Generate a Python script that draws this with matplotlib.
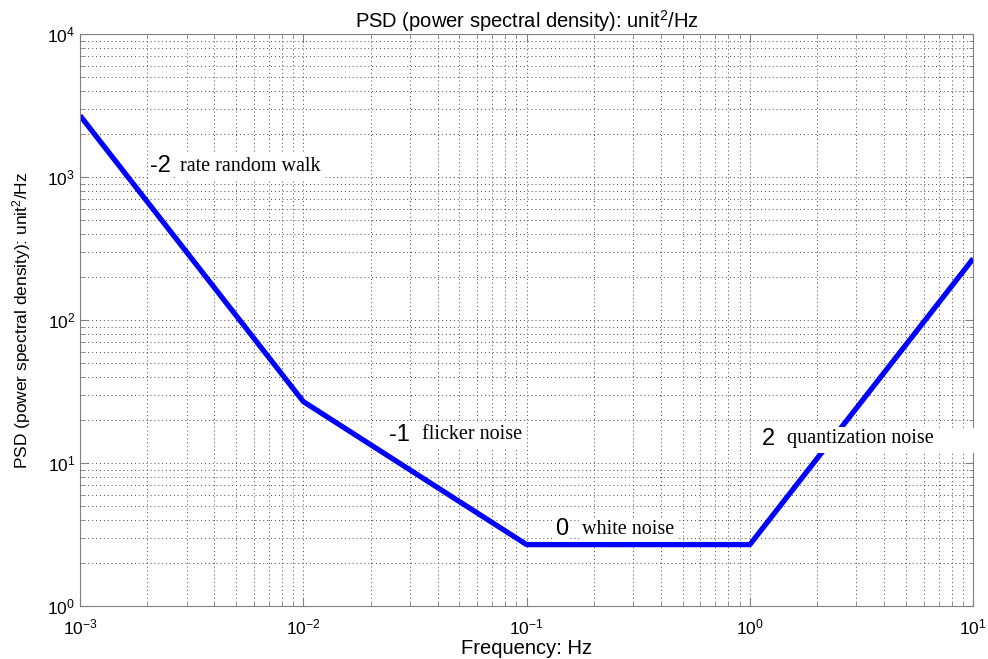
import matplotlib
matplotlib.use("Agg")
import matplotlib.pyplot as plt
from matplotlib.patches import Rectangle

# Piecewise PSD model: corner frequencies and PSD levels
freq = [1e-3, 1e-2, 1e-1, 1e0, 1e1]
psd = [2700, 27, 2.7, 2.7, 270]

# Slope labels with the noise type they correspond to
slope_labels = ["-2", "-1", "0", "2"]
noise_names = ["rate random walk", "flicker noise", "white noise", "quantization noise"]
label_x = [0.00206, 0.0242, 0.134, 1.135]
label_y = [1190, 15.8, 3.46, 14.8]
name_x = [0.00281, 0.0340, 0.1775, 1.468]

plt.rcParams["font.family"] = ["Liberation Sans", "DejaVu Sans"]
plt.rcParams["mathtext.fontset"] = "custom"
plt.rcParams["mathtext.rm"] = "Liberation Sans"
plt.rcParams["mathtext.it"] = "Liberation Sans:italic"

fig = plt.figure(figsize=(9.88, 6.59), dpi=100)
ax = fig.add_axes([0.081, 0.080, 0.904, 0.868])

ax.plot(freq, psd, color="#0000ff", lw=3.8, solid_capstyle="butt", zorder=2)
ax.set_xscale("log")
ax.set_yscale("log")
ax.set_xlim(1e-3, 1e1)
ax.set_ylim(1e0, 1e4)

ax.grid(True, which="both", linestyle=(0, (1, 3)), color="#444444", lw=0.7)
ax.set_axisbelow(True)
ax.tick_params(which="both", direction="in", top=True, right=True, colors="#808080",
               labelcolor="black", labelsize=12.5)
ax.tick_params(which="major", length=6)
ax.tick_params(which="minor", length=3)
ax.tick_params(axis="x", pad=8)
for s in ax.spines.values():
    s.set_color("#808080")

ax.set_title("PSD (power spectral density): unit$^2$/Hz", fontsize=14.5, pad=4)
ax.set_xlabel("Frequency: Hz", fontsize=14.5, labelpad=1)
ax.set_ylabel("PSD (power spectral density): unit$^2$/Hz", fontsize=12.5, labelpad=10)

# white backing strip behind the last annotation, running past the right spine
ax.add_patch(Rectangle((0.784, 0.268), 0.232, 0.044, transform=ax.transAxes,
                       facecolor="white", edgecolor="none", zorder=3.5, clip_on=False))

for s, n, x, y, nx in zip(slope_labels, noise_names, label_x, label_y, name_x):
    ax.text(x, y, s, fontsize=17, va="center", ha="left",
            bbox=dict(facecolor="white", edgecolor="none", pad=1), zorder=4, clip_on=False)
    ax.text(nx, y, n, fontsize=14.5, family=["Liberation Serif"], va="center", ha="left",
            bbox=dict(facecolor="white", edgecolor="none", pad=2), zorder=4, clip_on=False)

fig.savefig("out.png", dpi=100)
